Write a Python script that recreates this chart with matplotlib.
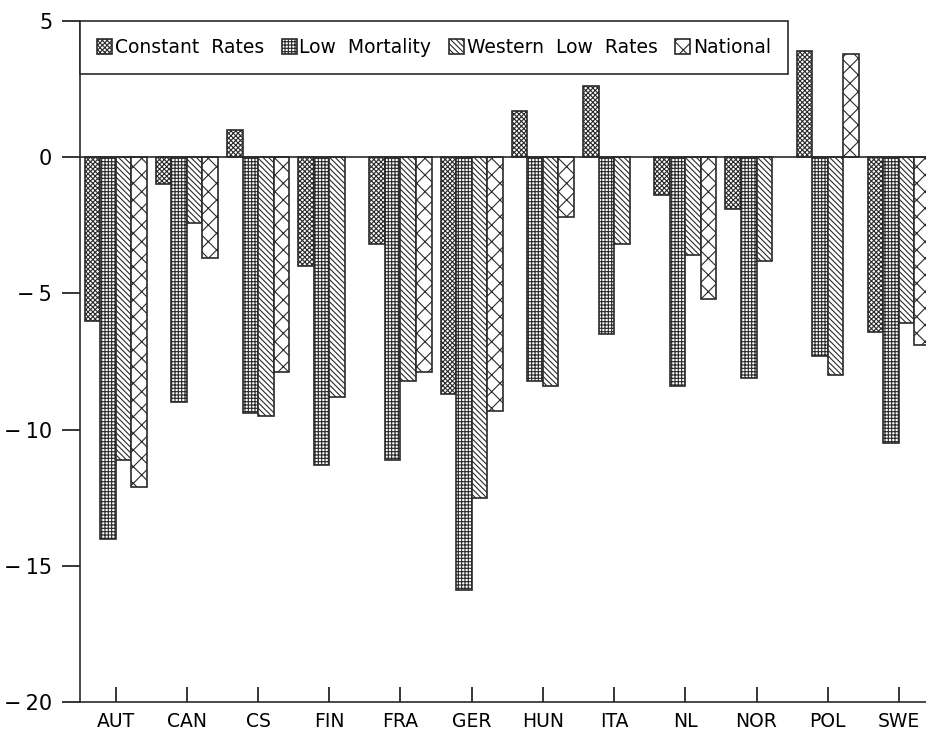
import numpy as np
import matplotlib
matplotlib.use("Agg")
import matplotlib.pyplot as plt

# Change by country under four scenarios (None = no bar)
countries = ["AUT", "CAN", "CS", "FIN", "FRA", "GER", "HUN", "ITA", "NL", "NOR", "POL", "SWE"]
constant_rates = [-6.0, -1.0, 1.0, -4.0, -3.2, -8.7, 1.7, 2.6, -1.4, -1.9, 3.9, -6.4]
low_mortality = [-14.0, -9.0, -9.4, -11.3, -11.1, -15.9, -8.2, -6.5, -8.4, -8.1, -7.3, -10.5]
western_low_rates = [-11.1, -2.4, -9.5, -8.8, -8.2, -12.5, -8.4, -3.2, -3.6, -3.8, -8.0, -6.1]
national = [-12.1, -3.7, -7.9, None, -7.9, -9.3, -2.2, None, -5.2, None, 3.8, -6.9]

series_names = ["Constant  Rates", "Low  Mortality", "Western  Low  Rates", "National"]
yticks = [5, 0, -5, -10, -15, -20]

plt.rcParams["font.family"] = "DejaVu Sans"
plt.rcParams["font.size"] = 13.5
plt.rcParams["hatch.linewidth"] = 0.8
plt.rcParams["hatch.color"] = "#2a2a2a"

fig = plt.figure(figsize=(9.26, 7.30), dpi=100)
ax = fig.add_axes([80 / 926, 28 / 730, 1 - 80 / 926, 681 / 730])

hatches = ["xxxxxxx", "+++++", "\\\\\\\\\\\\", "xx"]
width = 0.218
x = np.arange(len(countries))
all_series = [constant_rates, low_mortality, western_low_rates, national]

for i, (vals, name, hatch) in enumerate(zip(all_series, series_names, hatches)):
    offset = (i - 1.5) * width
    xs = [xi + offset for xi, v in zip(x, vals) if v is not None]
    hs = [v for v in vals if v is not None]
    ax.bar(xs, hs, width=width, color="white", edgecolor="#2a2a2a",
           linewidth=1.2, hatch=hatch, label=name)

ax.axhline(0, color="#2a2a2a", linewidth=1.2, zorder=3)

ax.set_xlim(-0.5, 11.38)
ax.set_ylim(-20, 5)

ax.set_xticks(x)
ax.set_xticklabels(countries)
ax.tick_params(axis="x", direction="in", length=11, width=1.1, pad=7)

def ylabel(v):
    return f"\u2212\u2009{abs(v)}" if v < 0 else str(v)

ax.set_yticks(yticks)
ax.set_yticklabels([ylabel(v) for v in yticks], fontsize=15)
ax.tick_params(axis="y", direction="out", length=13, width=1.1, pad=7)

for side in ["top", "right"]:
    ax.spines[side].set_visible(False)
for side in ["left", "bottom"]:
    ax.spines[side].set_linewidth(1.2)
    ax.spines[side].set_color("#2a2a2a")

leg = ax.legend(loc="upper left", bbox_to_anchor=(0, 0, 708 / 846, 1),
                ncol=4, mode="expand", borderaxespad=0, fancybox=False,
                frameon=True, edgecolor="#2a2a2a", framealpha=1,
                handlelength=0.8, handleheight=0.8, handletextpad=0.15,
                columnspacing=0.5, borderpad=0.9)
leg.get_frame().set_linewidth(1.2)

fig.savefig("out.png", dpi=100)
